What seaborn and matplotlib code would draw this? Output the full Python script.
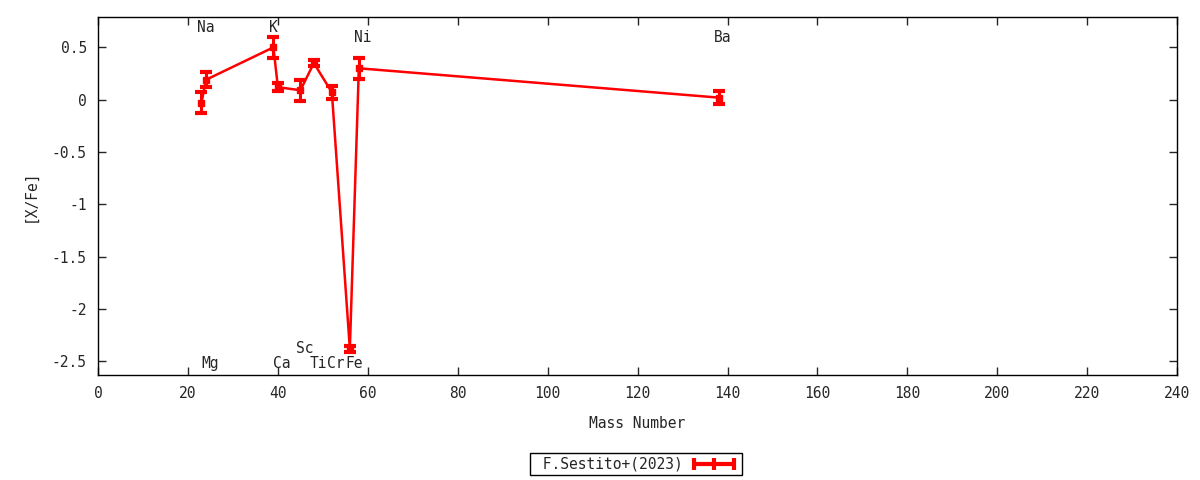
import matplotlib.pyplot as plt
import seaborn as sns
from matplotlib.lines import Line2D
from matplotlib.ticker import MultipleLocator, FormatStrFormatter

# data
elements = ['Na', 'Mg', 'K', 'Ca', 'Sc', 'Ti', 'Cr', 'Fe', 'Ni', 'Ba']
mass = [23, 24, 39, 40, 45, 48, 52, 56, 58, 138]
xfe = [-0.03, 0.19, 0.50, 0.12, 0.09, 0.35, 0.07, -2.38, 0.30, 0.02]
xfe_err = [0.10, 0.07, 0.10, 0.04, 0.10, 0.03, 0.06, 0.03, 0.10, 0.06]
label_y = [0.69, -2.52, 0.69, -2.52, -2.38, -2.52, -2.52, -2.52, 0.59, 0.59]

sns.set_style('ticks')
plt.rcParams['font.family'] = ['DejaVu Sans Mono', 'DejaVu Sans']
plt.rcParams['font.size'] = 10

fig = plt.figure(figsize=(12, 4.8), dpi=100)
ax = fig.add_axes([0.0817, 0.21875, 0.8993, 0.74585])

sns.lineplot(x=mass, y=xfe, color='red', linewidth=1.8, sort=False, ax=ax)
ax.errorbar(mass, xfe, yerr=xfe_err, fmt='s', color='red', ms=4.5,
            elinewidth=2.2, capsize=4, capthick=3)

for el, m, ly in zip(elements, mass, label_y):
    ax.text(m - 1, ly, el, ha='left', va='center', fontsize=10.5)

ax.set_xlim(0, 240)
ax.set_ylim(-2.63, 0.79)
ax.xaxis.set_major_locator(MultipleLocator(20))
ax.yaxis.set_major_locator(MultipleLocator(0.5))
ax.yaxis.set_major_formatter(FormatStrFormatter('%g'))
ax.tick_params(direction='in', length=6, width=1, top=True, right=True,
               labelsize=10.5, pad=8)
for s in ax.spines.values():
    s.set_color('black')
    s.set_linewidth(1)

ax.set_xlabel('Mass Number', fontsize=10.5, labelpad=11)
ax.set_ylabel('[X/Fe]', fontsize=10.5, labelpad=10)

# gnuplot-like key sample: thick line with caps at the ends and middle
sample = Line2D([], [], color='red', lw=3, marker='|', ms=9, mew=3)
leg = fig.legend(handles=[sample], labels=[' F.Sestito+(2023)'], loc='center',
                 bbox_to_anchor=(0.53, 0.033), markerfirst=False, numpoints=3,
                 fancybox=False, framealpha=1, edgecolor='black',
                 fontsize=10.5, handlelength=3.3, handletextpad=0.5,
                 borderpad=0.25, borderaxespad=0.2)
leg.get_frame().set_linewidth(1)

fig.savefig('out.png', dpi=100)
